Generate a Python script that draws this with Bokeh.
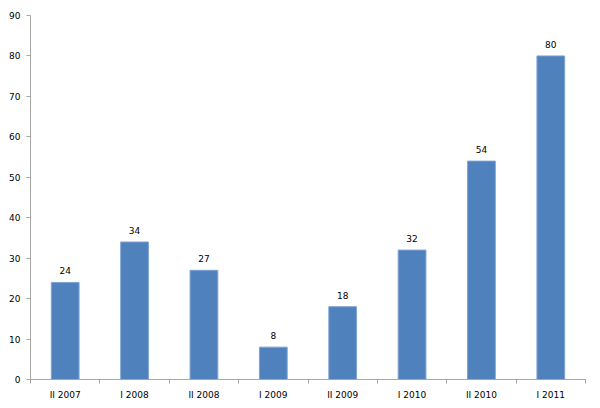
from bokeh.plotting import figure
from bokeh.models import ColumnDataSource, Range1d, FixedTicker, LabelSet
from bokeh.core.properties import value
from bokeh.embed import file_html
from bokeh.resources import INLINE

categories = ["II 2007", "I 2008", "II 2008", "I 2009", "II 2009", "I 2010", "II 2010", "I 2011"]
values = [24, 34, 27, 8, 18, 32, 54, 80]
y_ticks = [0, 10, 20, 30, 40, 50, 60, 70, 80, 90]

xs = [i + 0.5 for i in range(len(categories))]
src = ColumnDataSource(dict(x=xs, y=values, lab=[str(v) for v in values]))

p = figure(width=600, height=408, output_backend="svg", toolbar_location=None,
           x_range=Range1d(0, len(categories)), y_range=Range1d(0, 90),
           min_border_left=30, min_border_right=15, min_border_top=15, min_border_bottom=29)
p.outline_line_color = None
p.grid.grid_line_color = None

p.vbar(x="x", top="y", width=0.4, source=src, fill_color="#4F81BD", line_color="#7FA3D2", line_width=1)

font = "DejaVu Sans"
labels = LabelSet(x="x", y="y", text="lab", source=src, text_align="center", text_baseline="bottom",
                  y_offset=8, text_font=value(font), text_font_size=value("9px"), text_color="#000000")
p.add_layout(labels)

ax = p.xaxis[0]
ax.ticker = FixedTicker(ticks=xs, minor_ticks=list(range(len(categories) + 1)))
ax.major_label_overrides = {x: c for x, c in zip(xs, categories)}
ax.major_tick_out = 0
ax.major_tick_in = 0
ax.minor_tick_out = 4
ax.minor_tick_in = 0
ax.minor_tick_line_color = "#A6A6A6"
ax.axis_line_color = "#A6A6A6"
ax.major_label_standoff = 6
ax.major_label_text_font = font
ax.major_label_text_font_size = "9px"
ax.major_label_text_color = "#000000"

ay = p.yaxis[0]
ay.ticker = FixedTicker(ticks=y_ticks)
ay.major_tick_out = 4
ay.major_tick_in = 0
ay.minor_tick_line_color = None
ay.major_tick_line_color = "#A6A6A6"
ay.axis_line_color = "#A6A6A6"
ay.major_label_standoff = 6
ay.major_label_text_font = font
ay.major_label_text_font_size = "9px"
ay.major_label_text_color = "#000000"

open("out.html", "w").write(file_html(p, INLINE))
